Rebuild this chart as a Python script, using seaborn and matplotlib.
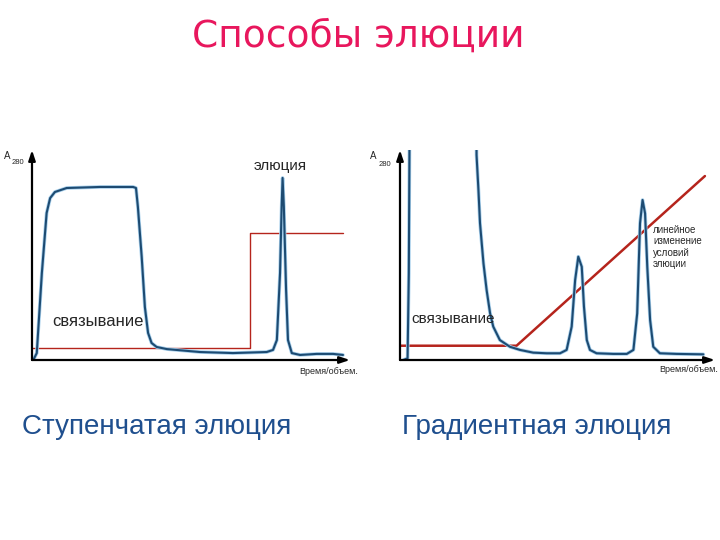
import matplotlib
matplotlib.use("Agg")
import matplotlib.pyplot as plt
import seaborn as sns

sns.set_style("white")
plt.rcParams['font.family'] = ['Liberation Sans', 'DejaVu Sans']

# ---------------- data (время/объём, A280 in % of axis) ----------------
step_x = [0.4, 1.5, 3.1, 4.6, 5.7, 7.2, 10.9, 21.4, 31.8, 32.7, 33.3, 34.5, 35.5, 36.5,
          37.6, 39.2, 42.4, 52.8, 63.2, 73.8, 75.8, 77.0, 78.0, 78.5, 78.8, 79.2, 79.9,
          80.5, 81.7, 84.3, 89.5, 94.7, 97.8]
step_a280 = [0, 3.3, 41.4, 70, 77.1, 80, 81.9, 82.4, 82.4, 81.9, 72.9, 49, 25.2, 12.9,
             8.1, 6.2, 5.2, 3.8, 3.3, 3.8, 4.8, 9.5, 41.4, 72.9, 86.7, 72.9, 33.3,
             9.5, 3.3, 2.4, 2.9, 2.9, 2.4]
step_buf_x = [0, 68.6, 68.6, 97.8]
step_buf_y = [5.7, 5.7, 60.5, 60.5]

grad_x = [1.1, 2.4, 2.8, 3.0, 3.4, 23.5, 24.3, 24.9, 25.4, 26.5, 27.5, 28.6, 29.6, 31.7,
          34.9, 38.1, 42.3, 46.6, 50.8, 52.9, 54.5, 55.6, 56.6, 57.7, 58.4, 59.3, 60.3,
          62.4, 67.7, 72.0, 74.1, 75.3, 76.2, 77.0, 77.8, 78.5, 79.4, 80.4, 82.5, 87.8, 96.3]
grad_a280 = [0, 0.8, 41.3, 99.2, 400, 400, 97.6, 81, 65.1, 46, 33.3, 22.2, 15.9, 9.5,
             6.3, 4.8, 3.5, 3.2, 3.2, 4.8, 15.9, 38.1, 49.2, 44.4, 25.4, 9.5, 4.8,
             3.2, 2.9, 2.9, 4.8, 22.2, 65.1, 76.2, 69.8, 44.4, 19, 6.3, 3.2, 2.9, 2.7]
grad_buf_x = [0, 37.0, 96.8]
grad_buf_y = [6.8, 6.8, 87.6]

W, H = 720, 540
fig = plt.figure(figsize=(7.2, 5.4), dpi=100)


def px(x, y):
    return x / W, 1 - y / H


def panel(left, right, bottom, top):
    ax = fig.add_axes([left / W, 1 - bottom / H, (right - left) / W, (bottom - top) / H])
    ax.set_xlim(0, 100)
    ax.set_ylim(0, 100)
    ax.axis("off")
    for end in [(1, 0), (0, 1)]:
        ax.annotate("", xy=end, xytext=(0, 0), xycoords="axes fraction",
                    arrowprops=dict(arrowstyle="-|>,head_length=0.6,head_width=0.2",
                                    color="black", lw=1.6, shrinkA=0, shrinkB=0),
                    annotation_clip=False)
    return ax


def trace(ax, x, y):
    sns.lineplot(x=x, y=y, ax=ax, color="#a8d0ec", lw=2.6, sort=False, estimator=None)
    sns.lineplot(x=x, y=y, ax=ax, color="#1d4b72", lw=1.5, sort=False, estimator=None)


# left: step elution
ax1 = panel(32, 350, 360, 150)
sns.lineplot(x=step_buf_x, y=step_buf_y, ax=ax1, color="#b5241c", lw=1.0,
             sort=False, estimator=None)
trace(ax1, step_x, step_a280)

# right: gradient elution
ax2 = panel(400, 715, 360, 150)
sns.lineplot(x=grad_buf_x, y=grad_buf_y, ax=ax2, color="#b5241c", lw=1.8,
             sort=False, estimator=None)
trace(ax2, grad_x, grad_a280)

# ---------------- texts ----------------
fig.text(*px(358, 37), "Способы элюции", color="#e8175d", fontsize=27,
         family=["DejaVu Sans"], ha="center", va="center")

fig.text(*px(4, 156), "A", fontsize=7, va="center")
fig.text(*px(12, 163), "280", fontsize=5.5, va="center")
fig.text(*px(370, 156), "A", fontsize=7, va="center")
fig.text(*px(379, 164), "280", fontsize=5.5, va="center")

fig.text(*px(280, 166), "элюция", fontsize=11, ha="center", va="center")
fig.text(*px(52, 322), "связывание", fontsize=12, va="center")
fig.text(*px(411, 319), "связывание", fontsize=11, va="center")
fig.text(*px(653, 247), "линейное\nизменение\nусловий\nэлюции", fontsize=7,
         va="center", linespacing=1.2)

fig.text(*px(358, 372), "Время/объем.", fontsize=6.5, ha="right", va="center")
fig.text(*px(718, 370), "Время/объем.", fontsize=6.5, ha="right", va="center")

fig.text(*px(22, 427), "Ступенчатая элюция", fontsize=20, color="#1f4f8e", va="center")
fig.text(*px(402, 427), "Градиентная элюция", fontsize=20, color="#1f4f8e", va="center")

fig.savefig("out.png", dpi=100)
